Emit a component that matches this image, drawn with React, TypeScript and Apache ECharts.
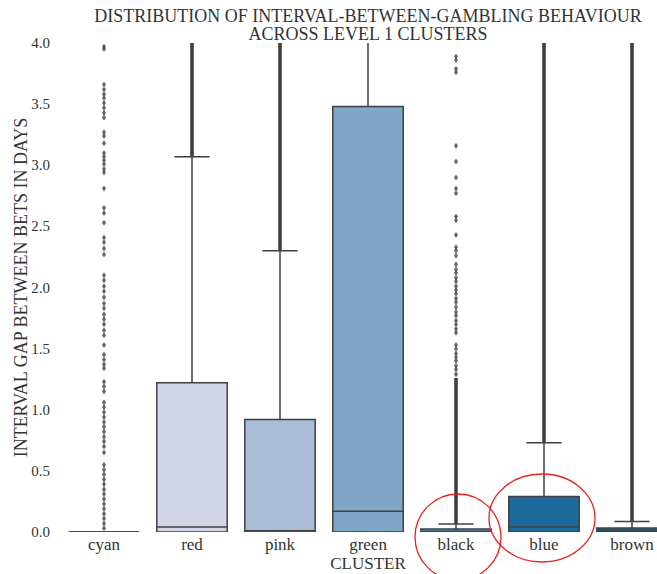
import React, { useEffect, useRef } from "react";
import * as echarts from "echarts";

const categories = ["cyan", "red", "pink", "green", "black", "blue", "brown"];
const whiskerLow = [0, 0, 0, 0, 0, 0, 0];
const quartile1 = [0, 0, 0, 0, 0, 0, 0];
const medians = [0, 0.04, 0.01, 0.17, 0.005, 0.04, 0.006];
const quartile3 = [0, 1.22, 0.92, 3.48, 0.025, 0.29, 0.032];
const whiskerHigh = [0, 3.07, 2.3, 4.6, 0.065, 0.73, 0.085];
const boxColors = ["#ebe9f2", "#d2d5e5", "#a9bdd6", "#7ea7c6", "#4f8cb8", "#1c6a9b", "#1b5a86"];

// sparse outliers
const cyanFliers = [
  3.97, 3.95, 3.66, 3.62, 3.58, 3.55, 3.51, 3.47, 3.43, 3.39, 3.27, 3.24, 3.18,
  3.1, 3.07, 3.04, 3.01, 2.97, 2.94, 2.81, 2.65, 2.61, 2.53, 2.41, 2.37, 2.32, 2.27,
  2.1, 2.06, 2.01, 1.97, 1.92, 1.87, 1.83, 1.78, 1.74, 1.7, 1.65, 1.61, 1.53,
  1.45, 1.41, 1.37, 1.34, 1.23, 1.19, 1.15, 1.06, 1.02, 0.98, 0.94, 0.9, 0.86,
  0.82, 0.78, 0.74, 0.7, 0.65, 0.55, 0.51, 0.47, 0.43, 0.39, 0.35, 0.31, 0.27,
  0.23, 0.19, 0.15, 0.11, 0.07, 0.03,
];
const blackFliers = [
  3.89, 3.86, 3.79, 3.76, 3.16, 3.03, 2.9, 2.81, 2.77, 2.58, 2.55, 2.43, 2.33,
  2.3, 2.26, 2.19, 2.15, 2.12, 2.08, 2.05, 2.01, 1.98, 1.95, 1.91, 1.88, 1.84,
  1.8, 1.77, 1.73, 1.7, 1.66, 1.63, 1.53, 1.5, 1.46, 1.43, 1.4, 1.36, 1.33, 1.29,
];
// runs of outliers so dense they merge into a solid line
const denseFlierLow = [null, 3.07, 2.3, null, 0.065, 0.73, 0.085];
const denseFlierHigh = [null, 4.0, 4.0, null, 1.26, 4.0, 4.0];

const yTickValues = [0, 0.5, 1, 1.5, 2, 2.5, 3, 3.5, 4];

const FONT = "'Liberation Serif', 'DejaVu Serif', serif";
const INK = "#3f3f3f";
const TEXT = "#333";

export default function App() {
  const ref = useRef<HTMLDivElement>(null);
  useEffect(() => {
    document.body.style.margin = "0";
    const chart = echarts.init(ref.current!, null, { renderer: "svg" });

    const boxData = categories.map((_, i) => [
      i, whiskerLow[i], quartile1[i], medians[i], quartile3[i], whiskerHigh[i],
    ]);
    const denseData = categories
      .map((_, i) => [i, denseFlierLow[i], denseFlierHigh[i]])
      .filter((d) => d[1] !== null);
    const flierData = [
      ...cyanFliers.map((v) => [0, v]),
      ...blackFliers.map((v) => [4, v]),
    ];

    chart.setOption({
      animation: false,
      title: {
        text: "DISTRIBUTION OF INTERVAL-BETWEEN-GAMBLING BEHAVIOUR\nACROSS LEVEL 1 CLUSTERS",
        left: 368,
        top: 7,
        textAlign: "center",
        padding: 0,
        textStyle: {
          fontFamily: FONT,
          fontSize: 18,
          fontWeight: "normal",
          color: TEXT,
          lineHeight: 18,
        },
      },
      grid: { left: 60, top: 43, width: 616, bottom: 42, outerBoundsMode: "none", containLabel: false },
      xAxis: {
        type: "category",
        data: categories,
        axisLine: { show: false },
        axisTick: { show: false },
        axisLabel: { fontFamily: FONT, fontSize: 17, color: TEXT, margin: 4, lineHeight: 17 },
        name: "CLUSTER",
        nameLocation: "middle",
        nameGap: 23,
        nameMoveOverlap: false,
        nameTextStyle: { fontFamily: FONT, fontSize: 17, color: TEXT, lineHeight: 17 },
      },
      yAxis: {
        type: "value",
        min: 0,
        max: 4,
        interval: 0.5,
        axisLine: { show: false },
        axisTick: { show: false },
        splitLine: { show: false },
        axisLabel: {
          fontFamily: FONT,
          fontSize: 15,
          color: TEXT,
          margin: 10,
          formatter: (v: number) => (yTickValues.includes(v) ? v.toFixed(1) : ""),
        },
        name: "INTERVAL GAP BETWEEN BETS IN DAYS",
        nameLocation: "middle",
        nameGap: 30,
        nameMoveOverlap: false,
        nameTextStyle: { fontFamily: FONT, fontSize: 18, color: TEXT, lineHeight: 18 },
      },
      series: [
        {
          type: "custom",
          clip: true,
          data: boxData,
          encode: { x: 0, y: [1, 2, 3, 4, 5] },
          z: 2,
          renderItem: (params: any, api: any) => {
            const i = api.value(0);
            const lo = api.value(1), a = api.value(2), m = api.value(3), b = api.value(4), hi = api.value(5);
            const cx = api.coord([i, 0])[0];
            const band = api.size([1, 0])[0];
            const half = band * 0.4;
            const capHalf = half / 2;
            const y = (v: number) => api.coord([i, v])[1];
            const lineStyle = { stroke: INK, lineWidth: 1.5, fill: null };
            const children: any[] = [];
            if (hi > b) {
              children.push({ type: "line", shape: { x1: cx, y1: y(b), x2: cx, y2: y(hi) }, style: lineStyle });
              children.push({ type: "line", shape: { x1: cx - capHalf, y1: y(hi), x2: cx + capHalf, y2: y(hi) }, style: lineStyle });
            }
            if (lo < a) {
              children.push({ type: "line", shape: { x1: cx, y1: y(a), x2: cx, y2: y(lo) }, style: lineStyle });
            }
            children.push({
              type: "polygon",
              shape: {
                points: [
                  [cx - half, y(a)], [cx + half, y(a)], [cx + half, y(b)], [cx - half, y(b)],
                ],
              },
              style: { fill: boxColors[i], stroke: INK, lineWidth: 1.5 },
            });
            children.push({ type: "line", shape: { x1: cx - half, y1: y(m), x2: cx + half, y2: y(m) }, style: lineStyle });
            return { type: "group", children };
          },
        },
        {
          type: "custom",
          clip: true,
          data: denseData,
          encode: { x: 0, y: [1, 2] },
          z: 3,
          renderItem: (params: any, api: any) => {
            const i = api.value(0);
            const cx = api.coord([i, 0])[0];
            const yLo = api.coord([i, api.value(1)])[1];
            const yHi = api.coord([i, api.value(2)])[1];
            return {
              type: "rect",
              shape: { x: cx - 1.8, y: yHi, width: 3.6, height: yLo - yHi },
              style: { fill: INK },
            };
          },
        },
        {
          type: "scatter",
          data: flierData,
          symbol: "diamond",
          symbolSize: [4, 6],
          itemStyle: { color: INK },
          z: 4,
        },
      ],
      graphic: [
        {
          type: "ellipse",
          shape: { cx: 458, cy: 537, rx: 43, ry: 43 },
          style: { fill: null, stroke: "#e8211d", lineWidth: 1.3 },
          z: 100,
        },
        {
          type: "ellipse",
          shape: { cx: 542, cy: 518, rx: 53, ry: 44 },
          style: { fill: null, stroke: "#e8211d", lineWidth: 1.3 },
          z: 100,
        },
      ],
    });
    return () => chart.dispose();
  }, []);
  return (
    <div style={{ width: 657, height: 574, overflow: "hidden", position: "relative" }}>
      <div ref={ref} style={{ width: 700, height: 574 }} />
    </div>
  );
}
